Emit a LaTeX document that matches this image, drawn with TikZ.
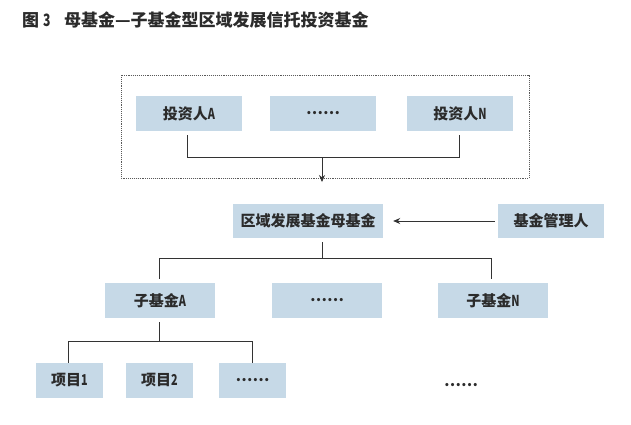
\documentclass[tikz,border=0pt]{standalone}
\usepackage{fontspec}
\setmainfont{Noto Sans CJK SC}
\newfontfamily\condf[FakeStretch=0.72]{Noto Sans CJK SC}
\newcommand{\cl}[1]{{\condf\bfseries #1}}
\usetikzlibrary{arrows.meta}
\definecolor{boxblue}{HTML}{C6D9E7}
\definecolor{txt}{HTML}{2B2B2B}
\definecolor{ln}{HTML}{333333}
\tikzset{
  bx/.style={fill=boxblue, draw=none, minimum height=35pt, inner sep=0pt, text=txt, font=\bfseries\fontsize{15}{15}\selectfont},
  conn/.style={draw=ln, line width=0.8pt},
  arr/.style={conn, -{Stealth[length=7pt,width=6pt]}},
}
\begin{document}
\begin{tikzpicture}[x=1pt,y=-1pt]
\useasboundingbox (0,0) rectangle (631,424);
\node[anchor=west, text=txt, font=\bfseries\fontsize{17}{17}\selectfont, inner sep=0pt] (title) at (22,20) {图 \cl{3}\hspace{0.8em}母基金—子基金型区域发展信托投资基金};
% investor group
\draw[draw=gray!70!black, line width=0.9pt, densely dotted] (121,75) rectangle (529,178);
\node[bx, minimum width=106pt] (invA) at (189,113.5) {投资人\cl{A}};
\node[bx, minimum width=106pt] (invD) at (323,113.5) {……};
\node[bx, minimum width=106pt] (invN) at (460,113.5) {投资人\cl{N}};
% mother fund
\node[bx, minimum width=150pt, minimum height=34pt] (mother) at (308,221) {区域发展基金母基金};
\node[bx, minimum width=106pt, minimum height=34pt] (mgr) at (551,221) {基金管理人};
% sub funds
\node[bx, minimum width=110pt] (subA) at (160,300.5) {子基金\cl{A}};
\node[bx, minimum width=110pt] (subD) at (327,300.5) {……};
\node[bx, minimum width=110pt] (subN) at (493,300.5) {子基金\cl{N}};
% projects
\node[bx, minimum width=67pt] (p1) at (69.5,380.5) {项目\cl{1}};
\node[bx, minimum width=67pt] (p2) at (159.5,380.5) {项目\cl{2}};
\node[bx, minimum width=67pt] (pD) at (252.5,380.5) {……};
\node[text=txt, font=\bfseries\fontsize{15}{15}\selectfont] (more) at (461,385) {……};
% connectors: investors
\coordinate (jA) at (187,157);
\coordinate (jN) at (459,157);
\coordinate (jC) at (322,157);
\coordinate (tipC) at (322,182);
\draw[conn] ([xshift=-2pt,yshift=-4pt]invA.south) -- (jA) -- (jN) -- ([xshift=-1pt,yshift=-4pt]invN.south);
\draw[arr] (jC) -- (tipC);
% manager arrow
\draw[arr] ([xshift=-3pt]mgr.west) -- ([xshift=10pt]mother.east);
% mother to sub funds
\coordinate (mB) at (322,242);
\coordinate (mJ) at (322,258);
\coordinate (sJA) at (159,258);
\coordinate (sJN) at (491,258);
\draw[conn] (mB) -- (mJ);
\draw[conn] ([xshift=-1pt,yshift=4pt]subA.north) -- (sJA) -- (sJN) -- ([xshift=-2pt,yshift=4pt]subN.north);
% sub fund A to projects
\coordinate (aJ) at (159,341);
\coordinate (pJ1) at (68,341);
\coordinate (pJD) at (252,341);
\draw[conn] ([xshift=-1pt,yshift=-4pt]subA.south) -- (aJ);
\draw[conn] ([xshift=-1.5pt]p1.north) -- (pJ1) -- (pJD) -- ([xshift=-0.5pt]pD.north);
\end{tikzpicture}
\end{document}
